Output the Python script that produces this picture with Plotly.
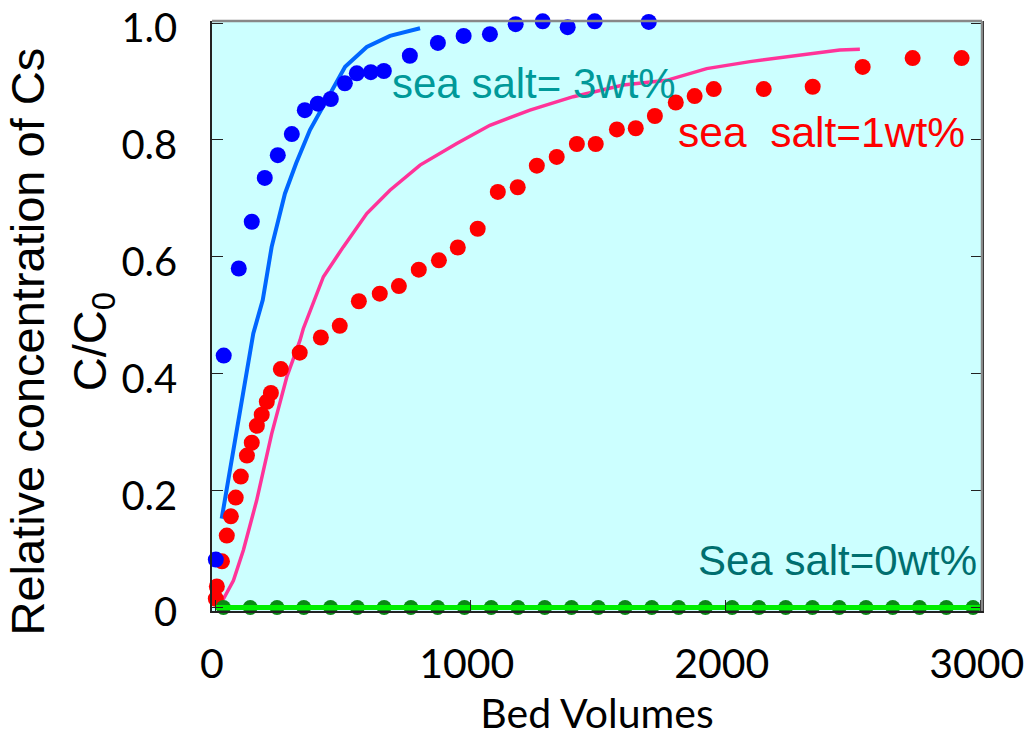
import plotly.graph_objects as go

# ---- data ----
blue_x = [0, 31, 90, 141, 192, 243, 298, 349, 400, 451, 506, 553, 608, 659, 761, 871, 972, 1075, 1176, 1282, 1380, 1486, 1698]
blue_y = [0.082, 0.431, 0.58, 0.66, 0.735, 0.774, 0.81, 0.851, 0.862, 0.870, 0.897, 0.914, 0.916, 0.918, 0.944, 0.966, 0.978, 0.981, 0.998, 1.003, 0.993, 1.003, 1.002]

red_x = [0, 4, 24, 43, 59, 78, 98, 122, 141, 161, 180, 200, 216, 255, 329, 412, 486, 561, 643, 718,
         796, 875, 949, 1027, 1106, 1184, 1259, 1337, 1416, 1490, 1573, 1647, 1722, 1804, 1878, 1953,
         2149, 2341, 2537, 2733, 2925]
red_y = [0.015, 0.036, 0.079, 0.123, 0.156, 0.188, 0.224, 0.260, 0.282, 0.311, 0.330, 0.352, 0.367, 0.408,
         0.436, 0.462, 0.482, 0.524, 0.537, 0.550, 0.578, 0.594, 0.616, 0.648, 0.711, 0.719, 0.756, 0.771,
         0.793, 0.793, 0.818, 0.820, 0.841, 0.864, 0.875, 0.887, 0.887, 0.891, 0.925, 0.940, 0.940]

model3_x = [23, 69, 115, 147, 184, 219, 271, 315, 369, 435, 507, 592, 683, 801]
model3_y = [0.152, 0.269, 0.389, 0.469, 0.526, 0.617, 0.708, 0.760, 0.817, 0.868, 0.925, 0.959, 0.978, 0.991]

model1_x = [23, 69, 108, 160, 219, 278, 330, 343, 422, 500, 592, 683, 801, 945, 1075, 1232, 1402, 1598,
            1768, 1925, 2095, 2291, 2447, 2526]
model1_y = [0.009, 0.046, 0.098, 0.183, 0.297, 0.394, 0.457, 0.477, 0.566, 0.617, 0.674, 0.714, 0.757,
            0.794, 0.825, 0.851, 0.874, 0.894, 0.902, 0.922, 0.934, 0.945, 0.954, 0.955]

green_x = [30, 135, 240, 345, 450, 555, 660, 765, 870, 975, 1080, 1185, 1290, 1395, 1500, 1605, 1710,
           1815, 1920, 2025, 2130, 2235, 2340, 2445, 2550, 2655, 2760, 2865, 2970]
green_y = [0] * len(green_x)
green_line_x = [0, 3000]
green_line_y = [0, 0]

x_ticks = [0, 1000, 2000, 3000]
x_ticktext = ["0", "1000", "2000", "3000"]
y_ticks = [0, 0.2, 0.4, 0.6, 0.8, 1.0]
y_ticktext = ["0", "0.2", "0.4", "0.6", "0.8", "1.0"]

fig = go.Figure()

fig.add_trace(go.Scatter(x=model1_x, y=model1_y, mode="lines",
                         line=dict(color="#ff3399", width=3.5), cliponaxis=False))
fig.add_trace(go.Scatter(x=model3_x, y=model3_y, mode="lines",
                         line=dict(color="#0066ff", width=4), cliponaxis=False))
fig.add_trace(go.Scatter(x=red_x, y=red_y, mode="markers",
                         marker=dict(color="#ff0000", size=16), cliponaxis=False))
fig.add_trace(go.Scatter(x=blue_x, y=blue_y, mode="markers",
                         marker=dict(color="#0000ff", size=16), cliponaxis=False))
fig.add_trace(go.Scatter(x=green_x, y=green_y, mode="markers",
                         marker=dict(color="#0a8a14", size=15), cliponaxis=False))
fig.add_trace(go.Scatter(x=green_line_x, y=green_line_y, mode="lines",
                         line=dict(color="#00ee00", width=5), cliponaxis=False))

tick_font = dict(family="Lato", size=40, color="black")
ann_font = "Liberation Sans, Arial, sans-serif"

fig.update_layout(
    width=1027, height=737,
    margin=dict(l=212, r=45, t=21, b=126, autoexpand=False),
    paper_bgcolor="white",
    plot_bgcolor="#ccffff",
    showlegend=False,
    xaxis=dict(range=[-15, 3005], tickvals=x_ticks, ticktext=x_ticktext, automargin=False,
               ticks="inside", ticklen=11, tickcolor="#222", tickwidth=1,
               showgrid=False, zeroline=False, showline=True, linecolor="#222", linewidth=1.5,
               tickfont=dict(family="Lato", size=41, color="black"),
               ticklabelstandoff=16, ticklabeloverflow="allow",
               ticklabelshift=-4,
               title=dict(text="Bed Volumes", font=dict(family="Lato", size=41, color="black"),
                          standoff=16)),
    yaxis=dict(range=[-0.006, 1.0035], tickvals=y_ticks, ticktext=y_ticktext, automargin=False,
               ticks="inside", ticklen=11, tickcolor="#222", tickwidth=1, mirror="ticks",
               showgrid=False, zeroline=False, showline=True, linecolor="#222", linewidth=1.5,
               tickfont=tick_font, ticklabelstandoff=25, ticklabeloverflow="allow",
               ticklabelshift=5),
    shapes=[
        dict(type="line", xref="paper", yref="paper", x0=0, x1=1, y0=1, y1=1,
             line=dict(color="#888888", width=2.5), layer="above"),
        dict(type="line", xref="paper", yref="paper", x0=1, x1=1, y0=0, y1=1,
             line=dict(color="#888888", width=2.5), layer="above"),
    ],
    annotations=[
        dict(text="Relative concentration of Cs<br>C/C<sub>0</sub>", textangle=-90,
             xref="paper", yref="paper", x=(62 - 212) / 770, y=(610 - 341) / 589,
             xanchor="center", yanchor="middle", showarrow=False,
             font=dict(family=ann_font, size=47, color="black")),
        dict(text="sea salt= 3wt%", xref="x", yref="y", x=685, y=0.896,
             xanchor="left", yanchor="middle", showarrow=False,
             font=dict(family=ann_font, size=42, color="#009999")),
        dict(text="sea\u00a0 salt=1wt%", xref="x", yref="y", x=2946, y=0.813,
             xanchor="right", yanchor="middle", showarrow=False,
             font=dict(family=ann_font, size=42.5, color="#ff0000")),
        dict(text="Sea salt=0wt%", xref="x", yref="y", x=2992, y=0.080,
             xanchor="right", yanchor="middle", showarrow=False,
             font=dict(family=ann_font, size=42, color="#006f6f")),
    ],
)

fig.write_html("out.html")
